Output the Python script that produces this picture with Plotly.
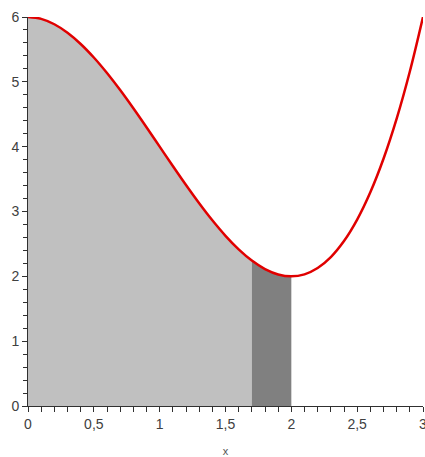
import plotly.graph_objects as go

# values
x_vals = [0.0, 0.1, 0.2, 0.3, 0.4, 0.5, 0.6, 0.7, 0.8, 0.9, 1.0,
          1.1, 1.2, 1.3, 1.4, 1.5, 1.6, 1.7, 1.8, 1.9, 2.0,
          2.1, 2.2, 2.3, 2.4, 2.5, 2.6, 2.7, 2.8, 2.9, 3.0]
y_vals = [6.0, 5.971, 5.888, 5.757, 5.584, 5.375, 5.136, 4.873, 4.592, 4.299, 4.0,
          3.701, 3.408, 3.127, 2.864, 2.625, 2.416, 2.243, 2.112, 2.029, 2.0,
          2.031, 2.128, 2.297, 2.544, 2.875, 3.296, 3.813, 4.432, 5.159, 6.0]
light_end = 1.7
dark_end = 2.0
x_ticks = [0, 0.5, 1, 1.5, 2, 2.5, 3]
y_ticks = [0, 1, 2, 3, 4, 5, 6]

light_x = [x for x in x_vals if x <= light_end + 1e-9]
light_y = y_vals[:len(light_x)]
dark_x = [x for x in x_vals if light_end - 1e-9 <= x <= dark_end + 1e-9]
i0 = x_vals.index(dark_x[0])
dark_y = y_vals[i0:i0 + len(dark_x)]

fig = go.Figure()
fig.add_trace(go.Scatter(x=light_x, y=light_y, mode="lines", fill="tozeroy",
                         fillcolor="#c0c0c0", line=dict(width=0, shape="spline"),
                         hoverinfo="skip"))
fig.add_trace(go.Scatter(x=dark_x, y=dark_y, mode="lines", fill="tozeroy",
                         fillcolor="#808080", line=dict(width=0, shape="spline"),
                         hoverinfo="skip"))
fig.add_trace(go.Scatter(x=x_vals, y=y_vals, mode="lines",
                         line=dict(color="#e00000", width=2.5, shape="spline")))

axis_font = dict(family="Liberation Sans, Arial, sans-serif", size=14, color="#404040")
fig.update_layout(
    width=425, height=457,
    margin=dict(l=28, r=2, t=17, b=51),
    paper_bgcolor="white", plot_bgcolor="white",
    showlegend=False,
    separators=", ",
    xaxis=dict(range=[0, 3], tickvals=x_ticks, ticks="outside", ticklen=5,
               tickcolor="#303030", showline=True, linecolor="#303030", linewidth=1,
               showgrid=False, zeroline=False, tickfont=axis_font,
               ticklabeloverflow="allow", automargin=False,
               minor=dict(dtick=0.1, ticks="outside", ticklen=5, tickcolor="#303030", showgrid=False),
               title=dict(text="x", font=dict(family="Liberation Sans, Arial, sans-serif", size=11, color="#555555"), standoff=16)),
    yaxis=dict(range=[0, 6], tickvals=y_ticks, ticks="outside", ticklen=5,
               tickcolor="#303030", showline=True, linecolor="#303030", linewidth=1,
               showgrid=False, zeroline=False, tickfont=axis_font,
               ticklabeloverflow="allow", automargin=False,
               minor=dict(dtick=0.2, ticks="outside", ticklen=4, tickcolor="#303030", showgrid=False)),
)
fig.write_html("out.html")
